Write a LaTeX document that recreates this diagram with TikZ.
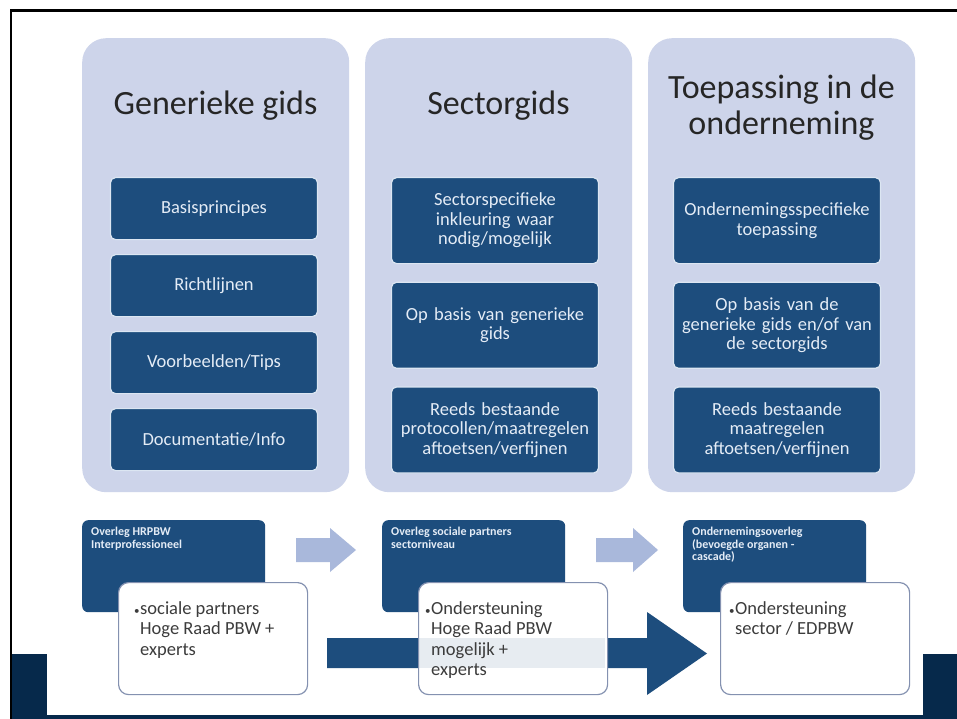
\documentclass[tikz,border=0pt]{standalone}
\usepackage{fontspec}
\setmainfont{Carlito}
\usetikzlibrary{positioning}

\definecolor{panelfill}{HTML}{CDD4EA}
\definecolor{boxblue}{HTML}{1D4D7D}
\definecolor{boxedge}{HTML}{DCE6F2}
\definecolor{boxtext}{HTML}{E4ECF6}
\definecolor{arrowlight}{HTML}{A9B8DB}
\definecolor{navy}{HTML}{06294B}
\definecolor{steunedge}{HTML}{8491B0}
\definecolor{titlegray}{HTML}{262626}
\definecolor{steuntext}{HTML}{3C3C3C}

\newcommand{\steunbullet}{\llap{{\fontsize{11}{11}\selectfont\textbullet}\hspace{0.5pt}}}

\tikzset{
  panel/.style={fill=panelfill, rounded corners=24pt, anchor=north west,
    minimum width=267pt, minimum height=454pt, inner sep=0pt},
  coltitle/.style={text=titlegray, align=center,
    font=\fontsize{34}{36}\selectfont},
  itembox/.style={fill=boxblue, draw=boxedge, line width=1.2pt,
    rounded corners=5pt, anchor=north, minimum width=207pt,
    text=boxtext, align=center, text width=200pt,
    font=\fontsize{18.5}{19.5}\selectfont},
  overleg/.style={fill=boxblue, rounded corners=6pt, anchor=north west,
    minimum width=183pt, minimum height=92pt, inner sep=0pt},
  overlegtext/.style={anchor=north west, text=boxtext, align=left,
    inner sep=0pt, font=\fontsize{12}{12.5}\selectfont\bfseries},
  steun/.style={fill=white, draw=steunedge,
    line width=1.2pt, rounded corners=10pt, anchor=north west,
    minimum width=189pt, minimum height=112pt, inner sep=0pt},
  steuntext/.style={anchor=north west, text=steuntext, align=left,
    inner sep=0pt, font=\fontsize{18.5}{20.5}\selectfont}
}

\begin{document}
\begin{tikzpicture}[x=1pt,y=-1pt]
   \useasboundingbox (0,0) rectangle (957,719);
   \fill[white] (0,0) rectangle (957,719);

   \node[panel] (genpanel) at (82,38) {};
   \node[panel] (secpanel) at (365,38) {};
   \node[panel] (ondpanel) at (648,38) {};

   \node[coltitle] (gentitle) at (215.5,106) {Generieke gids};
   \node[coltitle] (sectitle) at (498.5,106) {Sectorgids};
   \node[coltitle] (ondtitle) at (781.5,108) {Toepassing in de\\onderneming};

   \foreach \t [count=\i] in {Basisprincipes, Richtlijnen,
         Voorbeelden/Tips, Documentatie/Info}
      \node[itembox, minimum height=62pt] (gen\i)
         at (214,{177+(\i-1)*77}) {\t};

   \node[itembox, minimum height=86pt] (sec1) at (495,177)
      {Sectorspecifieke\\inkleuring waar\\nodig/mogelijk};
   \node[itembox, minimum height=86pt, below=17.5pt of sec1] (sec2)
      {Op basis van generieke\\gids};
   \node[itembox, minimum height=86pt, below=17.5pt of sec2] (sec3)
      {Reeds bestaande\\protocollen/maatregelen\\aftoetsen/verfijnen};

   \node[itembox, minimum height=86pt] (ond1) at (777,177)
      {Ondernemingsspecifieke\\toepassing};
   \node[itembox, minimum height=86pt, below=17.5pt of ond1] (ond2)
      {Op basis van de\\generieke gids en/of van\\de sectorgids};
   \node[itembox, minimum height=86pt, below=17.5pt of ond2] (ond3)
      {Reeds bestaande\\maatregelen\\aftoetsen/verfijnen};

   \node[overleg] (ovl1) at (82,520) {};
   \node[overleg] (ovl2) at (382,520) {};
   \node[overleg] (ovl3) at (683,520) {};
   \node[overlegtext] (ovl1txt) at ([shift={(9,7)}]ovl1.north west)
      {Overleg HRPBW\\Interprofessioneel};
   \node[overlegtext] (ovl2txt) at ([shift={(9,7)}]ovl2.north west)
      {Overleg sociale partners\\sectorniveau};
   \node[overlegtext] (ovl3txt) at ([shift={(9,7)}]ovl3.north west)
      {Ondernemingsoverleg\\(bevoegde organen -\\cascade)};

   \fill[arrowlight] (296,538) -- (330,538) -- (330,528) -- (356,550)
      -- (330,572) -- (330,562) -- (296,562) -- cycle;
   \fill[arrowlight] (596,538) -- (633,538) -- (633,528) -- (658,550)
      -- (633,572) -- (633,562) -- (596,562) -- cycle;

   \fill[boxblue] (327,638) -- (647,638) -- (647,612) -- (707,653.5)
      -- (647,695) -- (647,668) -- (327,668) -- cycle;

   \node[steun] (steun1) at (118,582) {};
   \node[steun] (steun2) at (418,582) {};
   \node[steun] (steun3) at (720,582) {};
   \fill[boxblue, opacity=0.1] (419,638) rectangle (605,668);

   \node[steuntext] (steun1txt) at ([shift={(22,19)}]steun1.north west)
      {\steunbullet sociale partners\\Hoge Raad PBW +\\experts};
   \node[steuntext] (steun2txt) at ([shift={(13,19)}]steun2.north west)
      {\steunbullet Ondersteuning\\Hoge Raad PBW\\mogelijk +\\experts};
   \node[steuntext] (steun3txt) at ([shift={(15,19)}]steun3.north west)
      {\steunbullet Ondersteuning\\sector / EDPBW};

   \fill[navy] (11,654) rectangle (47,719);
   \fill[navy] (923,654) rectangle (957,719);
   \fill[navy] (11,715) rectangle (957,719);
   \draw[black, line width=2.5pt] (11,719) -- (11,10.5) -- (957,10.5);
\end{tikzpicture}
\end{document}
